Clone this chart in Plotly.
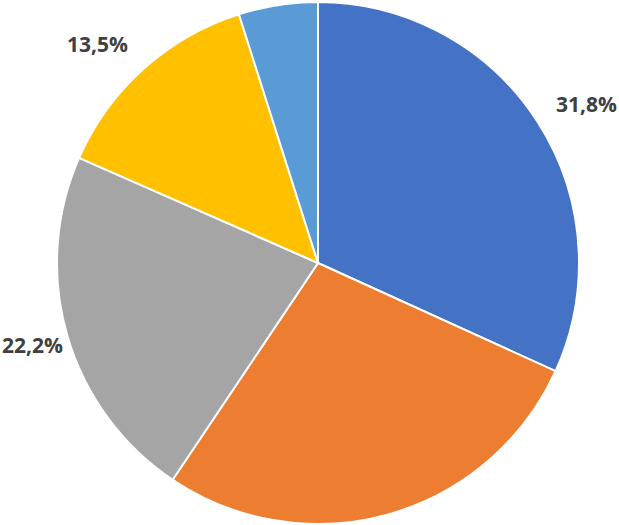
import math
import plotly.graph_objects as go

labels = ["A", "B", "C", "D", "E"]
values = [31.8, 27.6, 22.2, 13.5, 4.9]
colors = ["#4472C4", "#ED7D31", "#A5A5A5", "#FFC000", "#5B9BD5"]
show_label = [True, False, True, True, False]

W, H = 619, 525
cx, cy, R = 318, 263, 261

fig = go.Figure(go.Pie(
    labels=labels, values=values, sort=False, direction="clockwise",
    rotation=0, textinfo="none", hoverinfo="label+percent",
    marker=dict(colors=colors, line=dict(color="white", width=2)),
    domain=dict(x=[(cx - R) / W, (cx + R) / W], y=[(H - cy - R) / H, (H - cy + R) / H]),
))

# percent labels outside the slices (box kept inside the chart)
hw, hh = 31, 11
total = sum(values)
acc = 0
for v, show in zip(values, show_label):
    mid = (acc + v / 2) / total * 2 * math.pi
    acc += v
    if not show:
        continue
    s, c = math.sin(mid), math.cos(mid)
    r = R + 22
    px = cx + r * s + math.copysign(hw, s)
    py = cy - r * c - c * hh
    px = min(max(px, hw + 1), W - hw - 1)
    py = min(max(py, hh + 1), H - hh - 1)
    fig.add_annotation(
        x=px / W, y=1 - py / H, xref="paper", yref="paper",
        text=f"<b>{v:.1f}%</b>".replace(".", ","), showarrow=False,
        xanchor="center", yanchor="middle",
        font=dict(family="Open Sans", size=21, color="#404040"),
    )

fig.update_layout(
    width=W, height=H, margin=dict(l=0, r=0, t=0, b=0),
    showlegend=False, paper_bgcolor="white",
)
fig.write_html("out.html", config={"displayModeBar": False},
               post_script="document.body.style.margin='0';")
